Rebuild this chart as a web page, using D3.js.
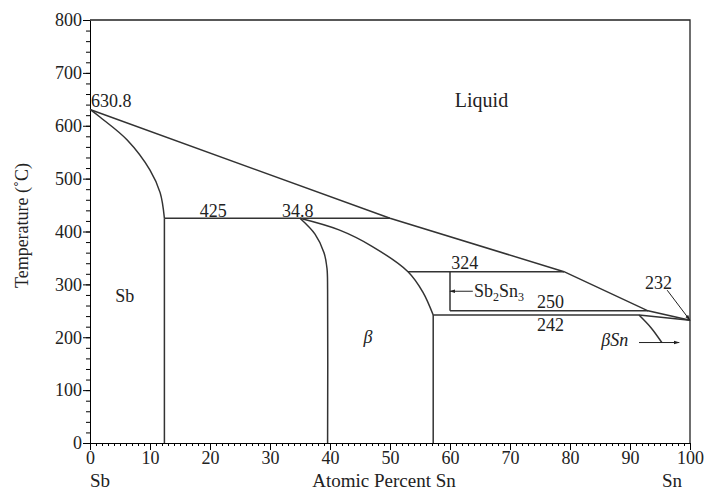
<!DOCTYPE html>
<html>
<head>
<meta charset="utf-8">
<script src="https://cdn.jsdelivr.net/npm/d3@7"></script>
<style>
  body { margin: 0; background: #fff; }
  text { font-family: "Liberation Serif", "DejaVu Serif", serif; fill: #222; }
</style>
</head>
<body>
<div id="chart_sbsn"></div>
<script>
// phase boundaries, [at% Sn, temperature C]
const liquidus = [[0, 630.8], [50, 425], [79, 324], [93, 250], [100, 232]];
const sbSolvus = [[0, 630.8], [1.7, 616], [6.2, 573], [10, 516], [11.7, 473], [12.4, 425]];
const betaLeft = [[35, 425], [37.5, 395], [39, 360], [39.5, 330], [39.6, 290], [39.6, 0]];
const betaRight = [[35, 425], [41.5, 403], [47, 372], [53, 324], [55.5, 285], [57.2, 242]];
const snSolidus = [[91.5, 242], [100, 232]];
const snSolvus = [[91.5, 242], [93.5, 218], [95.3, 190]];
const tieLines = [
  [[12.4, 425], [50, 425]],
  [[53, 324], [79, 324]],
  [[60, 324], [60, 250]],
  [[60, 250], [93, 250]],
  [[57.2, 242], [91.5, 242]],
  [[12.4, 425], [12.4, 0]],
  [[57.2, 242], [57.2, 0]]
];
const xTicks = [0, 10, 20, 30, 40, 50, 60, 70, 80, 90, 100];
const yTicks = [0, 100, 200, 300, 400, 500, 600, 700, 800];

(function phase_diagram(){
const height = 491,
    width = 708,
    margin = ({ top: 20, right: 18, bottom: 48, left: 90 });

const svg = d3.select("#chart_sbsn")
    .append("svg")
    .attr("width", width)
    .attr("height", height)
    .attr("viewBox", [0, 0, width, height]);

let x = d3.scaleLinear()
    .domain([0, 100])
    .range([margin.left, width - margin.right]);

let y = d3.scaleLinear()
    .domain([0, 800])
    .range([height - margin.bottom, margin.top]);

svg.append("defs").append("marker")
    .attr("id", "head")
    .attr("viewBox", "0 0 10 10")
    .attr("refX", 9).attr("refY", 5)
    .attr("markerWidth", 6).attr("markerHeight", 6)
    .attr("orient", "auto")
  .append("path")
    .attr("d", "M0,2L10,5L0,8Z")
    .attr("fill", "#222");

// minor ticks
svg.append("g")
    .attr("transform", `translate(0,${y(0)})`)
    .call(d3.axisBottom(x).ticks(100).tickSize(3).tickFormat(""))
    .call(g => g.select(".domain").remove());
svg.append("g")
    .attr("transform", `translate(${x(0)},0)`)
    .call(d3.axisLeft(y).ticks(40).tickSize(4).tickFormat(""))
    .call(g => g.select(".domain").remove());

svg.append("g")
    .attr("class", "x-axis")
    .attr("transform", `translate(0,${y(0)})`)
    .call(d3.axisBottom(x).tickValues(xTicks).tickSize(7).tickSizeOuter(0).tickPadding(1))
    .call(g => g.selectAll("text").style("font-size", "18px").style("font-family", "Liberation Serif"));

svg.append("g")
    .attr("class", "y-axis")
    .attr("transform", `translate(${x(0)},0)`)
    .call(d3.axisLeft(y).tickValues(yTicks).tickSize(7).tickSizeOuter(0).tickPadding(1))
    .call(g => g.selectAll("text").style("font-size", "18px").style("font-family", "Liberation Serif"));

// frame top and right
svg.append("path")
    .attr("d", `M${x(0)},${y(800)}H${x(100)}V${y(0)}`)
    .attr("fill", "none")
    .attr("stroke", "#222")
    .attr("stroke-width", 1.3);

let line = d3.line()
    .x(d => x(d[0]))
    .y(d => y(d[1]));

let curve = d3.line()
    .x(d => x(d[0]))
    .y(d => y(d[1]))
    .curve(d3.curveCatmullRom);

for (let c of [liquidus, snSolidus]) {
  svg.append("path").datum(c).attr("d", line)
      .attr("fill", "none").attr("stroke", "#333").attr("stroke-width", 1.5);
}
for (let c of [sbSolvus, betaLeft, betaRight, snSolvus]) {
  svg.append("path").datum(c).attr("d", curve)
      .attr("fill", "none").attr("stroke", "#333").attr("stroke-width", 1.5);
}
for (let t of tieLines) {
  svg.append("path").datum(t).attr("d", line)
      .attr("fill", "none").attr("stroke", "#333").attr("stroke-width", 1.5);
}

// pointers
svg.append("line")
    .attr("x1", x(63.8)).attr("y1", y(287)).attr("x2", x(60)).attr("y2", y(287))
    .attr("stroke", "#222").attr("stroke-width", 1).attr("marker-end", "url(#head)");
svg.append("line")
    .attr("x1", x(96.2)).attr("y1", y(232 + 57)).attr("x2", x(100)).attr("y2", y(232))
    .attr("stroke", "#222").attr("stroke-width", 1).attr("marker-end", "url(#head)");
svg.append("line")
    .attr("x1", x(91.5)).attr("y1", y(190)).attr("x2", x(98.2)).attr("y2", y(190))
    .attr("stroke", "#222").attr("stroke-width", 1).attr("marker-end", "url(#head)");

// labels
const lab = (t, px, py, size, anchor) => svg.append("text")
    .attr("x", px).attr("y", py)
    .attr("text-anchor", anchor || "start")
    .style("font-size", (size || 18) + "px")
    .text(t);

lab("630.8", x(0) + 1, y(636));
lab("425", x(18.3), y(427));
lab("34.8", x(32), y(427));
lab("Liquid", x(60.8), y(636), 20);
lab("Sb", x(4.2), y(267));
lab("β", x(45.6), y(190)).style("font-style", "italic");
lab("324", x(60.2), y(329));
lab("250", x(74.5), y(256));
lab("242", x(74.5), y(211));
lab("232", x(92.5), y(292));
lab("βSn", x(85.2), y(183)).style("font-style", "italic");

let sb = lab("Sb", x(64), y(277));
sb.append("tspan").attr("dy", 4).style("font-size", "12px").text("2");
sb.append("tspan").attr("dy", -4).text("Sn");
sb.append("tspan").attr("dy", 4).style("font-size", "12px").text("3");

svg.append("text")
    .attr("class", "x-label")
    .attr("text-anchor", "middle")
    .attr("x", x(49))
    .attr("y", height - 4)
    .style("font-size", "19px")
    .text("Atomic Percent Sn");
lab("Sb", x(0) + 10, height - 4, 19, "middle");
lab("Sn", x(100) - 18, height - 4, 19, "middle");

svg.append("text")
    .attr("class", "y-label")
    .attr("text-anchor", "middle")
    .attr("x", -y(400) + 6)
    .attr("y", 28)
    .attr("transform", "rotate(-90)")
    .style("font-size", "18px")
    .text("Temperature (˚C)");
})();
</script>
</body>
</html>
